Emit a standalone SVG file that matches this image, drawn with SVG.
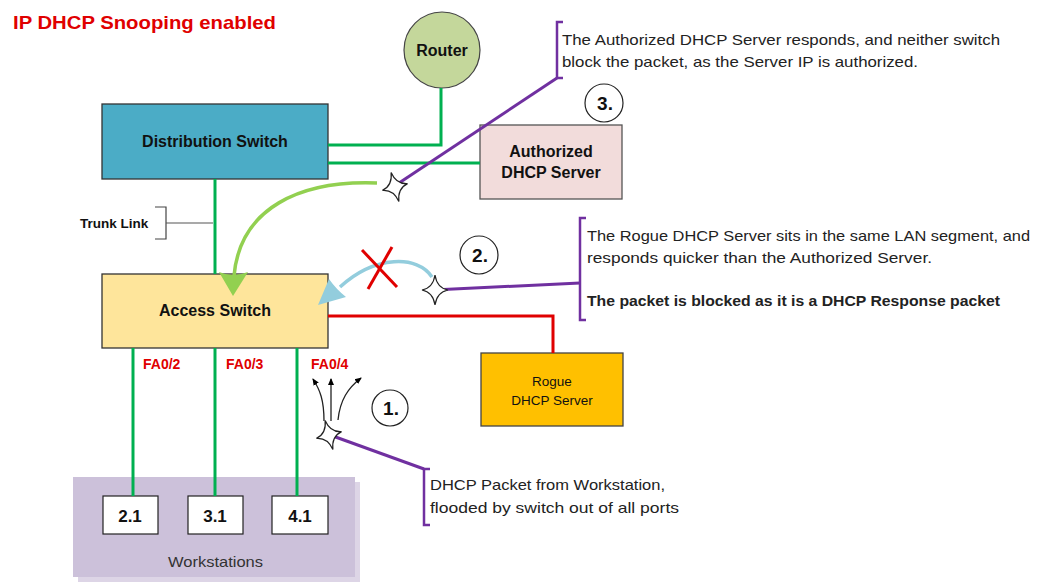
<svg xmlns="http://www.w3.org/2000/svg" width="1044" height="584" viewBox="0 0 1044 584">
<style>
text{font-family:"Liberation Sans",Arial,sans-serif;fill:#111}
.b{font-weight:bold}
.lbl{font-size:16px;font-weight:bold;text-anchor:middle}
.note{font-size:15px;fill:#222}
.port{font-size:14px;font-weight:bold;fill:#e00000}
.g{fill:none;stroke:#00b050;stroke-width:3}
.pu{fill:none;stroke:#7030a0;stroke-width:3}
.br{fill:none;stroke:#7030a0;stroke-width:2.5}
.star{fill:#fff;stroke:#222;stroke-width:1.2}
.num{fill:#fff;stroke:#222;stroke-width:1.2}
.numt{font-size:19px;font-weight:bold;text-anchor:middle}
</style>
<defs>
<marker id="ah" markerWidth="8" markerHeight="8" refX="6" refY="3" orient="auto" markerUnits="userSpaceOnUse" viewBox="0 0 8 6">
<path d="M0,0 L7,3 L0,6 z" fill="#000"/>
</marker>
<path id="starshape" d="M0,-15 Q2,-2 13,0 Q2,2 0,15 Q-2,2 -13,0 Q-2,-2 0,-15 z"/>
</defs>
<rect width="1044" height="584" fill="#fff"/>
<text x="13" y="29" class="b" style="font-size:19px;fill:#e00000" textLength="263" lengthAdjust="spacingAndGlyphs">IP DHCP Snooping enabled</text>

<g id="router">
<circle cx="442" cy="50" r="38" fill="#c4d79b" stroke="#444" stroke-width="1.2"/>
<text x="442" y="56" class="lbl">Router</text>
</g>

<g id="distribution-switch">
<rect x="102" y="104" width="226" height="75" fill="#4bacc6" stroke="#333" stroke-width="1.3"/>
<text x="215" y="147" class="lbl">Distribution Switch</text>
</g>

<g id="authorized-server">
<rect x="480" y="125" width="142" height="74" fill="#f2dcdb" stroke="#555" stroke-width="1.3"/>
<text x="551" y="157" class="lbl">Authorized</text>
<text x="551" y="178" class="lbl">DHCP Server</text>
</g>

<g id="access-switch">
<rect x="102" y="274" width="226" height="74" fill="#fee59b" stroke="#333" stroke-width="1.3"/>
<text x="215" y="316" class="lbl">Access Switch</text>
</g>

<g id="rogue-server">
<rect x="481" y="353" width="142" height="73" fill="#ffc000" stroke="#444" stroke-width="1.3"/>
<text x="552" y="386" style="font-size:13.5px;text-anchor:middle">Rogue</text>
<text x="552" y="405" style="font-size:13.5px;text-anchor:middle">DHCP Server</text>
</g>

<g id="workstations">
<rect x="78" y="482" width="282" height="100" fill="#ddd5e6"/>
<rect x="73" y="477" width="282" height="100" fill="#ccc1da"/>
<rect x="103" y="496" width="55" height="38" fill="#fff" stroke="#222" stroke-width="1.2"/>
<rect x="188" y="496" width="55" height="38" fill="#fff" stroke="#222" stroke-width="1.2"/>
<rect x="272" y="496" width="56" height="38" fill="#fff" stroke="#222" stroke-width="1.2"/>
<text x="130" y="522" class="lbl" style="font-size:17px">2.1</text>
<text x="215" y="522" class="lbl" style="font-size:17px">3.1</text>
<text x="300" y="522" class="lbl" style="font-size:17px">4.1</text>
<text x="168" y="567" style="font-size:15px;fill:#333" textLength="95" lengthAdjust="spacingAndGlyphs">Workstations</text>
</g>

<g id="connectors">
<polyline class="g" points="328,145 441,145 441,88"/>
<line class="g" x1="328" y1="163" x2="480" y2="163"/>
<line class="g" x1="215" y1="179" x2="215" y2="274"/>
<polyline points="328,316 553,316 553,353" fill="none" stroke="#e00000" stroke-width="3"/>
<line class="g" x1="133" y1="348" x2="133" y2="496"/>
<line class="g" x1="215" y1="348" x2="215" y2="496"/>
<line class="g" x1="297" y1="348" x2="297" y2="496"/>
<!-- trunk link bracket -->
<polyline points="155,207 166,207 166,239 155,239" fill="none" stroke="#444" stroke-width="1.2"/>
<line x1="166" y1="223" x2="213" y2="223" stroke="#555" stroke-width="1.2"/>
<!-- green curved arrow -->
<path d="M377,183 C300,180 240,208 234,276" fill="none" stroke="#92d050" stroke-width="3.5"/>
<path d="M219,272 Q233,278 248,272 L233,296 z" fill="#92d050"/>
<!-- blue curved arrow -->
<path d="M432,277 C418,255 375,255 340,287" fill="none" stroke="#93cddd" stroke-width="3.5"/>
<path d="M318,305 L329,279 Q336,289 346,297 z" fill="#93cddd"/>
<!-- red X -->
<line x1="362" y1="250" x2="397" y2="287" stroke="#e00000" stroke-width="3"/>
<line x1="392" y1="247" x2="368" y2="289" stroke="#e00000" stroke-width="3"/>
<!-- flood arrows -->
<path d="M324,421 C324,400 320,390 313,379" fill="none" stroke="#222" stroke-width="1.3" marker-end="url(#ah)"/>
<line x1="331" y1="421" x2="331" y2="379" stroke="#222" stroke-width="1.3" marker-end="url(#ah)"/>
<path d="M338,420 C340,400 348,388 361,378" fill="none" stroke="#222" stroke-width="1.3" marker-end="url(#ah)"/>
<!-- callout lines -->
<line class="pu" x1="393" y1="187" x2="557" y2="78"/>
<line class="pu" x1="433" y1="290" x2="580" y2="283"/>
<line class="pu" x1="330" y1="435" x2="424" y2="469"/>
<polyline class="br" points="563,22 557,22 557,78 563,78"/>
<polyline class="br" points="586,218 580,218 580,320 586,320"/>
<polyline class="br" points="430,469 424,469 424,525 430,525"/>
</g>

<g id="labels">
<text x="80" y="228" class="b" style="font-size:13.5px">Trunk Link</text>
<text x="143" y="369" class="port">FA0/2</text>
<text x="226" y="369" class="port">FA0/3</text>
<text x="311" y="369" class="port">FA0/4</text>
</g>

<g id="packets">
<use href="#starshape" x="395" y="187" class="star" transform="rotate(-15 395 187)"/>
<use href="#starshape" x="435" y="290" class="star"/>
<use href="#starshape" x="329" y="435" class="star" transform="rotate(-15 329 435)"/>
</g>

<g id="steps">
<circle cx="390" cy="408" r="18" class="num"/>
<text x="391" y="415" class="numt">1.</text>
<circle cx="479" cy="255" r="19" class="num"/>
<text x="480" y="262" class="numt">2.</text>
<circle cx="604" cy="103" r="19" class="num"/>
<text x="605" y="110" class="numt">3.</text>
</g>

<g id="notes">
<text x="562" y="45" class="note" textLength="438" lengthAdjust="spacingAndGlyphs">The Authorized DHCP Server responds, and neither switch</text>
<text x="562" y="67" class="note" textLength="356" lengthAdjust="spacingAndGlyphs">block the packet, as the Server IP is authorized.</text>
<text x="587" y="241" class="note" textLength="443" lengthAdjust="spacingAndGlyphs">The Rogue DHCP Server sits in the same LAN segment, and</text>
<text x="587" y="263" class="note" textLength="345" lengthAdjust="spacingAndGlyphs">responds quicker than the Authorized Server.</text>
<text x="587" y="306" class="note b" textLength="413" lengthAdjust="spacingAndGlyphs">The packet is blocked as it is a DHCP Response packet</text>
<text x="430" y="490" class="note" textLength="235" lengthAdjust="spacingAndGlyphs">DHCP Packet from Workstation,</text>
<text x="430" y="513" class="note" textLength="249" lengthAdjust="spacingAndGlyphs">flooded by switch out of all ports</text>
</g>
</svg>
